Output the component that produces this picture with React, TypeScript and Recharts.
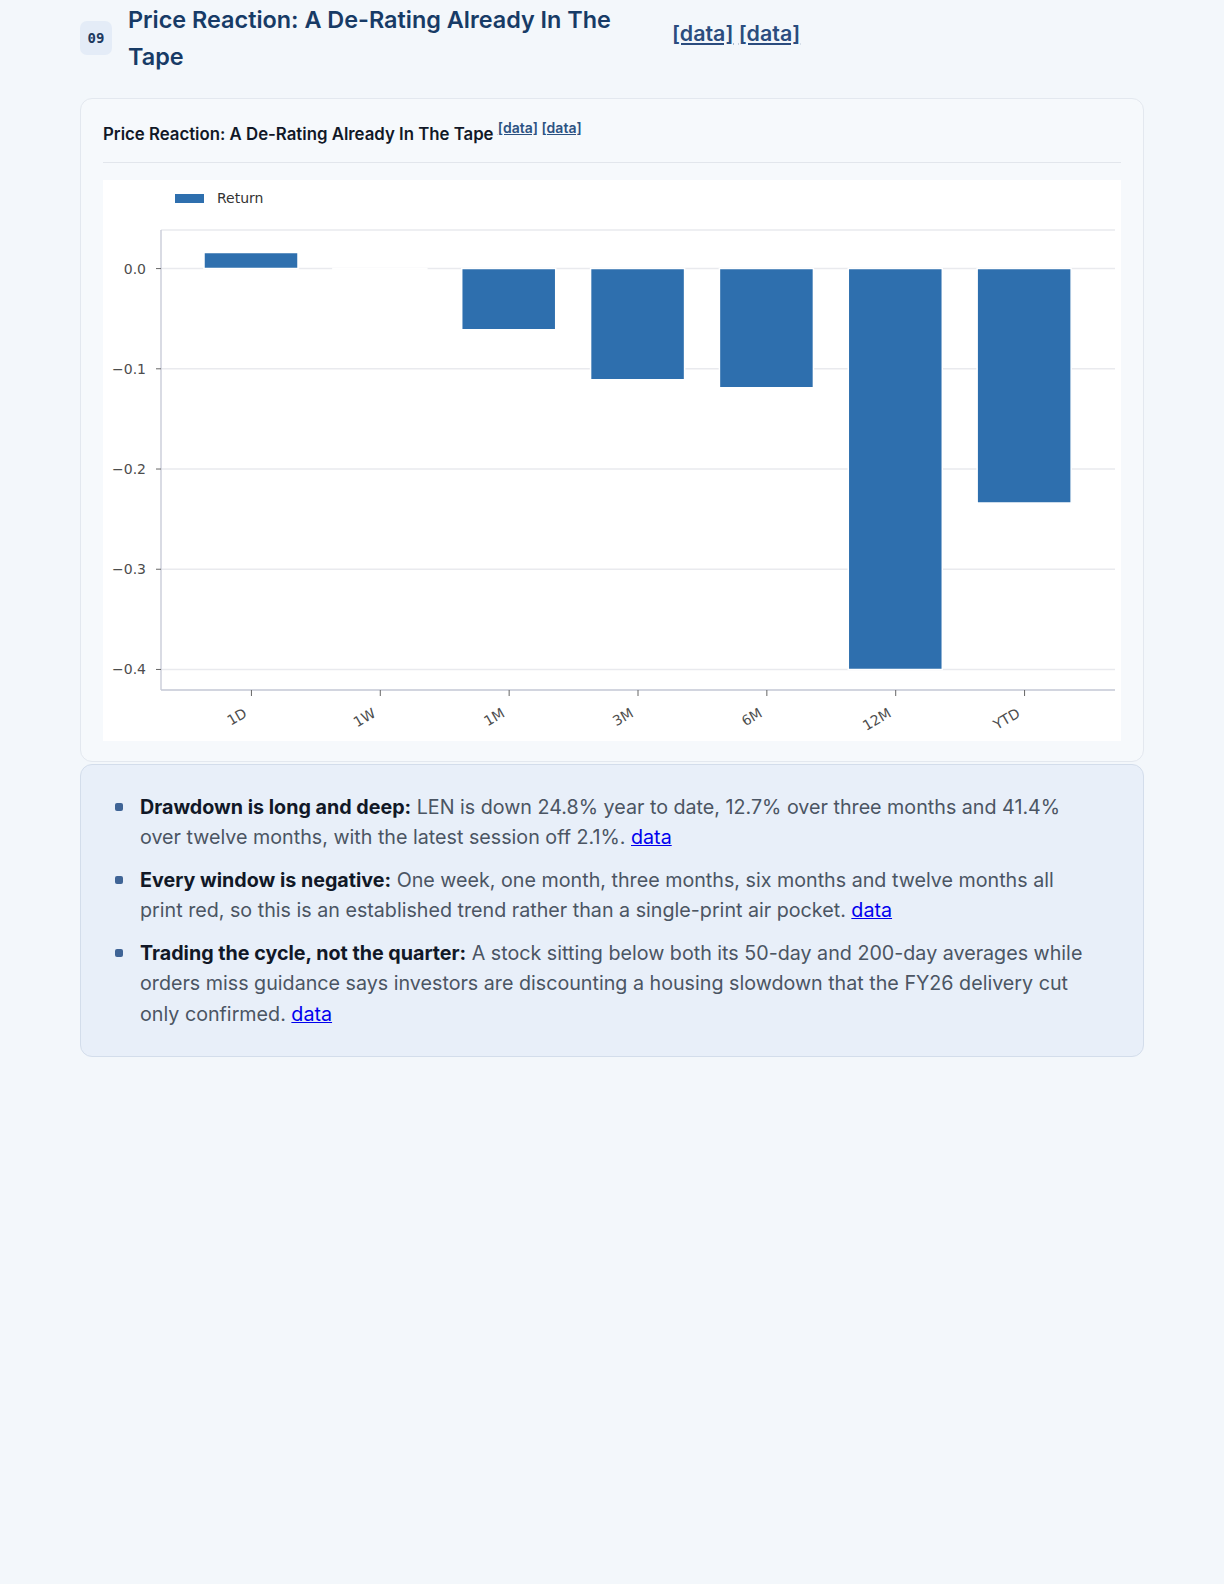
import React from "react";
import {
  BarChart,
  Bar,
  XAxis,
  YAxis,
  CartesianGrid,
  Legend,
} from "recharts";

// trailing returns by window
const PERIODS = ["1D", "1W", "1M", "3M", "6M", "12M", "YTD"];
const RETURNS = [0.016, -0.0005, -0.061, -0.111, -0.119, -0.4, -0.234];
const Y_TICKS = [0, -0.1, -0.2, -0.3, -0.4];
const Y_DOMAIN = [-0.4205, 0.0385];

const BAR_COLOR = "#2e6fae";
const AXIS_FONT = "'DejaVu Sans', sans-serif";
const PAGE_FONT = "Inter, 'Noto Sans', sans-serif";

const chartData = PERIODS.map((period, i) => ({ period, ret: RETURNS[i] }));

const formatY = (v: number) => {
  const s = Math.abs(v).toFixed(1);
  return v < 0 ? "\u2212" + s : s;
};

function XTick({ x, y, payload }: any) {
  const ax = x - 3.5;
  const ay = y + 18;
  return (
    <text
      x={ax}
      y={ay}
      transform={`rotate(-30, ${ax}, ${ay})`}
      textAnchor="end"
      fontFamily={AXIS_FONT}
      fontSize={14}
      fill="#4d4d4d"
    >
      {payload.value}
    </text>
  );
}

function LegendBox({ payload }: any) {
  const item = payload && payload[0];
  return (
    <div
      style={{
        display: "flex",
        alignItems: "center",
        height: 17,
        fontFamily: AXIS_FONT,
        fontSize: 14,
        color: "#333",
        lineHeight: 1,
      }}
    >
      <span
        style={{
          display: "inline-block",
          width: 29,
          height: 9,
          background: item ? item.color : BAR_COLOR,
          marginRight: 13,
        }}
      />
      <span>{item ? item.value : "Return"}</span>
    </div>
  );
}

const bullets = [
  {
    lead: "Drawdown is long and deep:",
    text: " LEN is down 24.8% year to date, 12.7% over three months and 41.4% over twelve months, with the latest session off 2.1%. ",
  },
  {
    lead: "Every window is negative:",
    text: " One week, one month, three months, six months and twelve months all print red, so this is an established trend rather than a single-print air pocket. ",
  },
  {
    lead: "Trading the cycle, not the quarter:",
    text: " A stock sitting below both its 50-day and 200-day averages while orders miss guidance says investors are discounting a housing slowdown that the FY26 delivery cut only confirmed. ",
  },
];

export default function App() {
  return (
    <div style={{ fontFamily: PAGE_FONT, width: 1224, paddingLeft: 80, boxSizing: "border-box" }}>
      <style>{`body{margin:0;background:#f3f7fb;}`}</style>

      {/* section header */}
      <div style={{ display: "flex", alignItems: "center", paddingTop: 1 }}>
        <div
          style={{
            width: 32,
            height: 34,
            borderRadius: 7,
            background: "#e4ecf7",
            color: "#1e3a5f",
            fontFamily: "'DejaVu Sans Mono', monospace",
            fontWeight: 700,
            fontSize: 14,
            display: "flex",
            alignItems: "center",
            justifyContent: "center",
            flexShrink: 0,
          }}
        >
          09
        </div>
        <div
          style={{
            width: 530,
            marginLeft: 16,
            fontSize: 23.4,
            fontWeight: 600,
            lineHeight: "37.4px",
            color: "#173b66",
          }}
        >
          Price Reaction: A De-Rating Already In The Tape
        </div>
        <div
          style={{
            marginLeft: 14,
            position: "relative",
            top: -5,
            fontSize: 21.4,
            fontWeight: 600,
            color: "#2b4c7e",
          }}
        >
          <span style={{ textDecoration: "underline" }}>[data]</span>{" "}
          <span style={{ textDecoration: "underline" }}>[data]</span>
        </div>
      </div>

      {/* chart card */}
      <div
        style={{
          marginTop: 22,
          width: 1064,
          boxSizing: "border-box",
          background: "#f6f9fc",
          border: "1px solid #e3e8ef",
          borderRadius: 12,
          padding: "23px 22px 20px 22px",
        }}
      >
        <div
          style={{
            fontSize: 16.8,
            fontWeight: 600,
            lineHeight: "24px",
            color: "#111827",
            paddingBottom: 16,
            borderBottom: "1px solid #e2e6ec",
          }}
        >
          Price Reaction: A De-Rating Already In The Tape{" "}
          <sup style={{ fontSize: 14, color: "#2c5282", lineHeight: 0 }}>
            <span style={{ textDecoration: "underline" }}>[data]</span>{" "}
            <span style={{ textDecoration: "underline" }}>[data]</span>
          </sup>
        </div>
        <div style={{ marginTop: 17, background: "#ffffff", width: 1018, height: 561 }}>
          <BarChart
            width={1018}
            height={561}
            data={chartData}
            margin={{ top: 50, right: 6, bottom: 0, left: 0 }}
          >
            <CartesianGrid vertical={false} stroke="#e9eaee" strokeWidth={1.5} />
            <XAxis
              dataKey="period"
              height={51}
              padding={{ left: 26, right: 26 }}
              interval={0}
              tickSize={6}
              tickMargin={2}
              tick={<XTick />}
              axisLine={{ stroke: "#c9ccd8", strokeWidth: 1.4 }}
              tickLine={{ stroke: "#666", strokeWidth: 1 }}
            />
            <YAxis
              type="number"
              width={58}
              domain={Y_DOMAIN}
              ticks={Y_TICKS}
              interval={0}
              tickFormatter={formatY}
              tickSize={5}
              tickMargin={10}
              tick={{ fontFamily: AXIS_FONT, fontSize: 14, fill: "#4d4d4d" }}
              axisLine={{ stroke: "#c9ccd8", strokeWidth: 1.4 }}
              tickLine={{ stroke: "#666", strokeWidth: 1 }}
            />
            <Legend
              layout="horizontal"
              verticalAlign="middle"
              align="center"
              wrapperStyle={{ top: 10, left: 72, width: "auto", height: 17 }}
              content={<LegendBox />}
            />
            <Bar
              dataKey="ret"
              name="Return"
              fill={BAR_COLOR}
              stroke="#ffffff"
              strokeWidth={1.5}
              barSize={94}
              isAnimationActive={false}
            />
          </BarChart>
        </div>
      </div>

      {/* takeaways */}
      <div
        style={{
          marginTop: 2,
          width: 1064,
          boxSizing: "border-box",
          background: "#e8eff9",
          border: "1px solid #d3ddeb",
          borderRadius: 12,
          padding: "27px 44px 27px 34px",
        }}
      >
        {bullets.map((b, i) => (
          <div
            key={i}
            style={{
              position: "relative",
              paddingLeft: 25,
              fontSize: 19.7,
              lineHeight: "30.3px",
              color: "#4b5563",
              marginTop: i === 0 ? 0 : 12.5,
            }}
          >
            <span
              style={{
                position: "absolute",
                left: 0,
                top: 11,
                width: 8,
                height: 8,
                borderRadius: 2,
                background: "#3f6496",
              }}
            />
            <strong style={{ color: "#111827", fontWeight: 700 }}>{b.lead}</strong>
            {b.text}
            <a href="#" style={{ color: "#0000ee" }}>
              data
            </a>
          </div>
        ))}
      </div>
    </div>
  );
}
